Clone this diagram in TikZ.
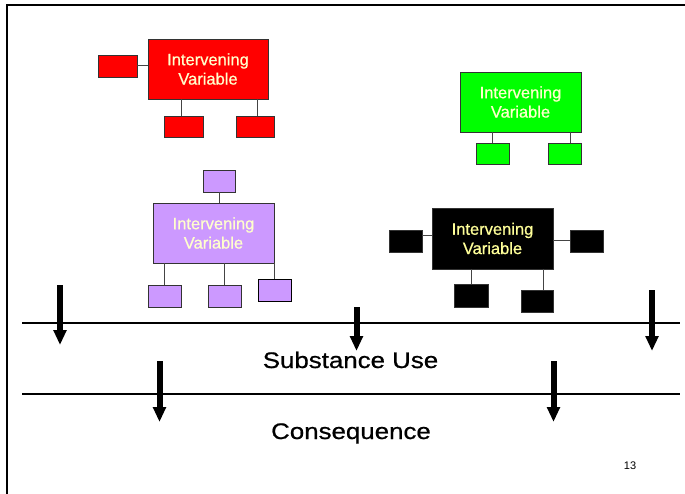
\documentclass[tikz,border=0pt]{standalone}
\usepackage{fontspec}
\setmainfont{Liberation Sans}
\newfontfamily\widesans[FakeStretch=1.15,FakeBold=0.7]{Liberation Sans}
\newfontfamily\boxsans[FakeBold=0.6]{Liberation Sans}
\usetikzlibrary{arrows.meta,calc}

\definecolor{ivred}{HTML}{FF0000}
\definecolor{ivgreen}{HTML}{00FF00}
\definecolor{ivpurple}{HTML}{CC99FF}
\definecolor{ivblack}{HTML}{000000}
\definecolor{paletext}{HTML}{FFFFCC}
\definecolor{khakitext}{HTML}{FFFF99}
\definecolor{edgegray}{HTML}{333333}
\definecolor{conngray}{HTML}{444444}

\tikzset{
  box/.style={draw=edgegray, line width=0.8pt, inner sep=0pt},
  mainbox/.style={box, minimum width=121pt, minimum height=60pt, align=center,
    text=paletext, font=\boxsans\fontsize{16.5}{19.3}\selectfont},
  subbox/.style={box, minimum width=33pt, minimum height=22pt},
  conn/.style={draw=conngray, line width=1pt},
  rulebar/.style={line width=2.2pt},
  bigarrow/.style={line width=6pt, -{Triangle[length=15pt,width=12.5pt]}},
  label/.style={font=\widesans\fontsize{22.5}{26}\selectfont, anchor=base}
}

\begin{document}
\begin{tikzpicture}[x=1pt,y=-1pt]
\useasboundingbox (0,0) rectangle (685,494);

% page frame (top and left edges)
\draw[rulebar] (7,494) -- (7,5) -- (685,5);

% red group
\node[mainbox, fill=ivred, minimum width=120pt] (rm) at (208,69) {Intervening\\Variable};
\node[subbox, fill=ivred, minimum width=39pt] (rl) at (117.5,66) {};
\node[subbox, fill=ivred, minimum width=39pt, minimum height=21pt] (rb1) at (183.5,126.5) {};
\node[subbox, fill=ivred, minimum width=38pt, minimum height=21pt] (rb2) at (255,126.5) {};
\draw[conn] (rl.east) -- (rl.east -| rm.west);
\coordinate (rc1) at ($(rb1.north)+(-2.5,0)$);
\coordinate (rc2) at ($(rb2.north)+(2.5,0)$);
\draw[conn] (rc1) -- (rc1 |- rm.south);
\draw[conn] (rc2) -- (rc2 |- rm.south);

% green group
\node[mainbox, fill=ivgreen] (gm) at (520.5,102) {Intervening\\Variable};
\node[subbox, fill=ivgreen, minimum height=21pt] (gb1) at (492.5,153.5) {};
\node[subbox, fill=ivgreen, minimum height=21pt] (gb2) at (564.5,153.5) {};
\draw[conn] (gb1.north) -- (gb1.north |- gm.south);
\coordinate (gc2) at ($(gb2.north)+(5.5,0)$);
\draw[conn] (gc2) -- (gc2 |- gm.south);

% purple group
\node[mainbox, fill=ivpurple] (pm) at (213.5,233) {Intervening\\Variable};
\node[subbox, fill=ivpurple, minimum width=32pt] (pt) at (219,181) {};
\node[subbox, fill=ivpurple] (pb1) at (164.5,296) {};
\node[subbox, fill=ivpurple] (pb2) at (224.5,296) {};
\node[subbox, fill=ivpurple, draw=black] (pb3) at (274.5,290) {};
\draw[conn] (pt.south) -- (pt.south |- pm.north);
\draw[conn] (pb1.north) -- (pb1.north |- pm.south);
\draw[conn] (pb2.north) -- (pb2.north |- pm.south);
\coordinate (pc3) at ($(pb3.north)+(-0.5,0)$);
\draw[conn] (pc3) -- (pc3 |- pm.south);

% black group
\node[mainbox, fill=ivblack, text=khakitext, minimum height=61pt] (km) at (492.5,238.5) {Intervening\\Variable};
\node[subbox, fill=ivblack] (kl) at (405.5,241) {};
\node[subbox, fill=ivblack] (kr) at (586.5,241) {};
\node[subbox, fill=ivblack, minimum width=34pt, minimum height=23pt] (kb1) at (471,295.5) {};
\node[subbox, fill=ivblack, minimum width=32pt] (kb2) at (537,301) {};
\coordinate (kcl) at ($(kl.east)+(0,-5)$);
\draw[conn] (kcl) -- (kcl -| km.west);
\draw[conn] (kr.west) -- (kr.west -| km.east);
\draw[conn] (kb1.north) -- (kb1.north |- km.south);
\coordinate (kc2) at ($(kb2.north)+(6,0)$);
\draw[conn] (kc2) -- (kc2 |- km.south);

% level rules
\coordinate (l1a) at (22,322.7);
\coordinate (l1b) at (680,322.7);
\coordinate (l2a) at (22,394);
\coordinate (l2b) at (680,394);
\draw[rulebar] (l1a) -- (l1b);
\draw[rulebar] (l2a) -- (l2b);

% influence arrows
\coordinate (a1s) at (60,285);   \coordinate (a1e) at (60,345);
\coordinate (a2s) at (356.5,307); \coordinate (a2e) at (356.5,351);
\coordinate (a3s) at (652,290);  \coordinate (a3e) at (652,351);
\coordinate (a4s) at (159.5,361); \coordinate (a4e) at (159.5,422);
\coordinate (a5s) at (553.5,361); \coordinate (a5e) at (553.5,422);
\draw[bigarrow] (a1s) -- (a1e);
\draw[bigarrow] (a2s) -- (a2e);
\draw[bigarrow] (a3s) -- (a3e);
\draw[bigarrow] (a4s) -- (a4e);
\draw[bigarrow] (a5s) -- (a5e);

% level labels
\node[label] (su) at (350.5,368) {Substance Use};
\node[label] (cq) at (351,439) {Consequence};
\node[font=\fontsize{11}{13}\selectfont, anchor=base] (pg) at (630,469) {13};
\end{tikzpicture}
\end{document}
